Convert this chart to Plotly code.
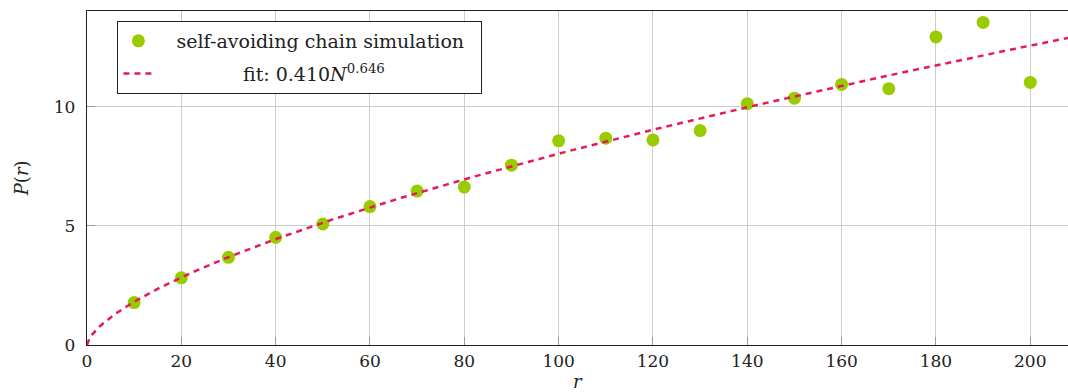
import numpy as np
import plotly.graph_objects as go

r_vals = [10, 20, 30, 40, 50, 60, 70, 80, 90, 100, 110, 120, 130, 140, 150, 160, 170, 180, 190, 200]
p_vals = [1.78, 2.82, 3.68, 4.52, 5.08, 5.81, 6.46, 6.63, 7.55, 8.57, 8.68, 8.61, 9.00, 10.13, 10.36, 10.94, 10.76, 12.93, 13.54, 11.02]
fit_a = 0.410
fit_b = 0.646
x_ticks = [0, 20, 40, 60, 80, 100, 120, 140, 160, 180, 200]
y_ticks = [0, 5, 10]

fit_x = np.linspace(0, 210, 400)
fit_y = fit_a * fit_x ** fit_b

FONT = "DejaVu Serif"
SP = "&nbsp;"

fig = go.Figure()
fig.add_trace(go.Scatter(
    x=r_vals, y=p_vals, mode="markers",
    marker=dict(color="#99cc00", size=13),
    name=SP * 3 + "self-avoiding chain simulation" + SP * 2, legendgroup="a",
))
fig.add_trace(go.Scatter(
    x=fit_x, y=fit_y, mode="lines",
    line=dict(color="#e6195a", width=2.5, dash="6px,5px"),
    name=SP * 14 + "fit: 0.410<i>N</i><sup>0.646</sup>",
    legendgroup="b",
))

fig.update_layout(
    width=1068, height=392,
    margin=dict(l=87, r=0, t=11, b=47, autoexpand=False),
    paper_bgcolor="white", plot_bgcolor="white",
    font=dict(family=FONT, size=16, color="#222"),
    showlegend=True,
    legend=dict(
        x=0.031, y=0.97, xanchor="left", yanchor="top",
        bordercolor="#222", borderwidth=1, bgcolor="white",
        font=dict(family=FONT, size=19),
        traceorder="grouped", tracegroupgap=5,
    ),
    xaxis=dict(
        range=[0, 208], tickvals=x_ticks, ticktext=[str(v) for v in x_ticks],
        showgrid=True, gridcolor="#cccccc", gridwidth=1,
        showline=True, linecolor="#222", linewidth=1.3, mirror=True,
        ticks="inside", ticklen=8, tickcolor="#999", zeroline=False,
        automargin=False, tickfont=dict(size=17),
    ),
    yaxis=dict(
        range=[0, 14.02], tickvals=y_ticks, ticktext=[str(v) for v in y_ticks],
        showgrid=True, gridcolor="#cccccc", gridwidth=1,
        showline=True, linecolor="#222", linewidth=1.3, mirror=False,
        ticks="inside", ticklen=8, tickcolor="#999", zeroline=False,
        automargin=False, tickfont=dict(size=17), ticklabelstandoff=7,
    ),
    annotations=[
        dict(text="<i>r</i>", xref="paper", yref="paper", x=0.5, y=-0.11,
             xanchor="center", yanchor="middle", showarrow=False,
             font=dict(family=FONT, size=18)),
        dict(text="<i>P</i>(<i>r</i>)", xref="paper", yref="paper", x=-0.067, y=0.5,
             xanchor="center", yanchor="middle", showarrow=False, textangle=-90,
             font=dict(family=FONT, size=18)),
    ],
)

fig.write_html(
    "out.html",
    config={"displayModeBar": False},
    post_script="document.body.style.margin='0';document.body.style.overflow='hidden';",
)
